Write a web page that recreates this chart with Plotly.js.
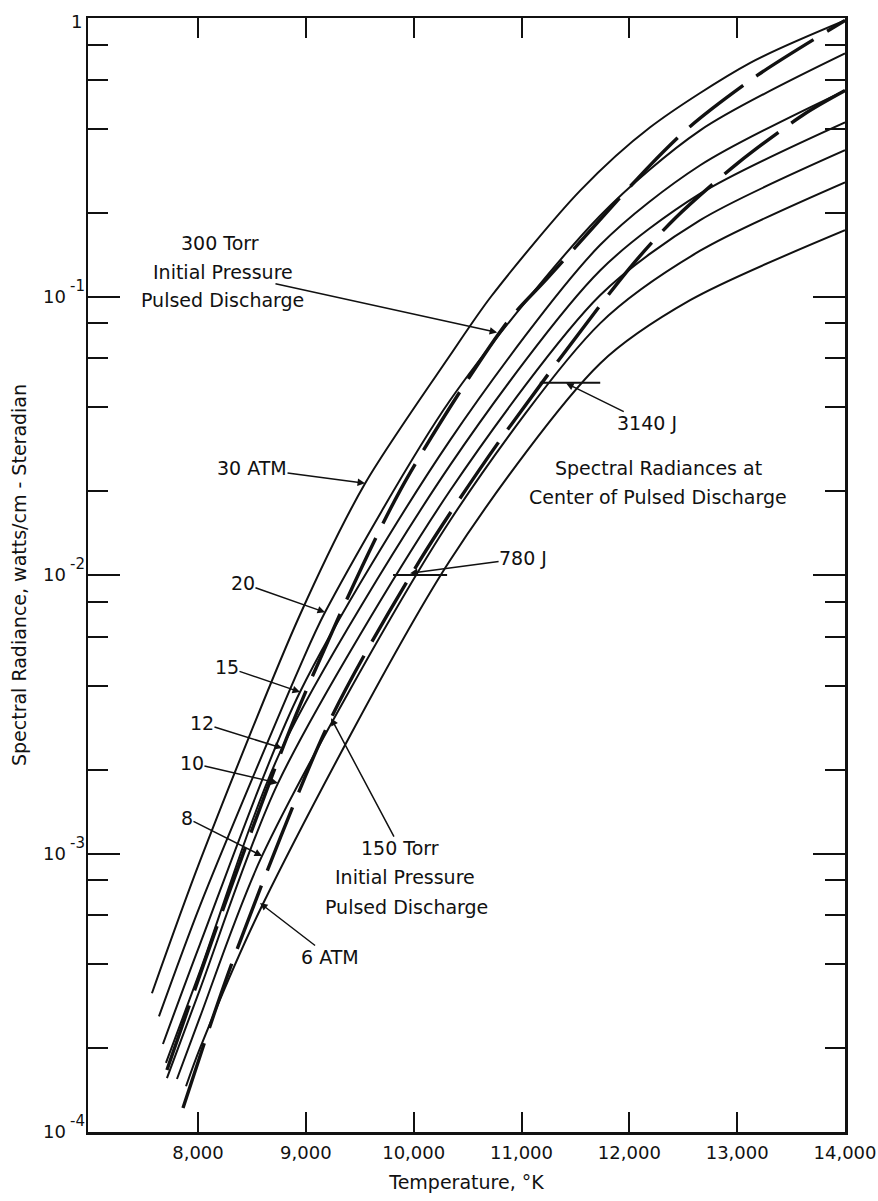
<!DOCTYPE html>
<html>
<head>
<meta charset="utf-8">
<script src="https://cdn.plot.ly/plotly-3.0.1.min.js"></script>
<style>
  html, body { margin: 0; padding: 0; background: #fff; }
  #chart { width: 878px; height: 1201px; }
</style>
</head>
<body>
<div id="chart"></div>
<script>
// Spectral radiance vs temperature, constant-pressure curves (ATM)
const T_30 = [7573, 8019, 8946, 9549, 10338, 10718, 11544, 12193, 13121, 14000];
const R_30 = [3.15e-4, 9.4e-4, 7.2e-3, 0.0213, 0.0615, 0.100, 0.240, 0.405, 0.69, 0.98];

const T_20 = [7638, 8019, 8946, 9178, 10338, 11729, 12657, 14000];
const R_20 = [2.6e-4, 6.5e-4, 4.7e-3, 7.35e-3, 0.0424, 0.195, 0.395, 0.746];

const T_15 = [7675, 8019, 8946, 10338, 11729, 12657, 14000];
const R_15 = [2.07e-4, 4.73e-4, 3.8e-3, 0.0305, 0.153, 0.296, 0.549];

const T_12 = [7703, 8019, 8779, 10338, 11729, 12657, 14000];
const R_12 = [1.77e-4, 3.78e-4, 2.39e-3, 0.0248, 0.124, 0.234, 0.422];

const T_10 = [7712, 8019, 8742, 10338, 11729, 12657, 14000];
const R_10 = [1.56e-4, 3.26e-4, 1.79e-3, 0.0201, 0.101, 0.188, 0.335];

const T_8 = [7805, 8019, 8594, 10338, 11729, 12657, 14000];
const R_8 = [1.55e-4, 2.59e-4, 9.8e-4, 0.0157, 0.0801, 0.146, 0.257];

const T_6 = [7889, 8019, 8603, 10338, 11729, 12564, 14000];
const R_6 = [1.46e-4, 2.0e-4, 6.6e-4, 0.0113, 0.0575, 0.097, 0.173];

// Pulsed discharge curves (dashed)
const T_300torr = [7712, 8297, 8946, 9874, 10866, 11237, 12174, 12564, 13186, 14000];
const R_300torr = [1.67e-4, 7.4e-4, 3.41e-3, 0.0201, 0.0807, 0.116, 0.291, 0.408, 0.622, 0.98];

const T_150torr = [7861, 8325, 9234, 10059, 10801, 12007, 12425, 13000, 13631, 14000];
const R_150torr = [1.22e-4, 4.14e-4, 3.06e-3, 0.0113, 0.0305, 0.127, 0.191, 0.300, 0.454, 0.549];

// Energy markers on the discharge curve (short horizontal bars)
const T_780J = [9809, 10310];
const R_780J = [0.01, 0.01];
const T_3140J = [11170, 11730];
const R_3140J = [0.049, 0.049];

// Axis ticks
const xTickVals = [8000, 9000, 10000, 11000, 12000, 13000, 14000];
const xTickText = ['8,000', '9,000', '10,000', '11,000', '12,000', '13,000', '14,000'];
const yTickVals = [1e-4, 1e-3, 1e-2, 1e-1, 1];
const yTickText = ['10', '10', '10', '10', ''];
const yExponents = ['-4', '-3', '-2', '-1', ''];
const yMinorVals = [];
[1e-4, 1e-3, 1e-2, 1e-1].forEach(d => [2, 4, 6, 8].forEach(m => yMinorVals.push(d * m)));

// Curve labels: text position [T, R] and arrow tip [T, R]
const curveLabels = [
  { text: '30 ATM', at: [8501, 0.02416], tip: [9549, 0.02134] },
  { text: '20', at: [8417, 0.00934], tip: [9178, 0.00735] },
  { text: '15', at: [8269, 0.00467], tip: [8946, 0.00380] },
  { text: '12', at: [8037, 0.00294], tip: [8779, 0.00239] },
  { text: '10', at: [7944, 0.00211], tip: [8742, 0.00179] },
  { text: '8', at: [7898, 0.00134], tip: [8594, 0.00098] },
  { text: '6 ATM', at: [9224, 0.000425], tip: [8575, 0.000664] },
  { text: 'Initial Pressure', at: [8232, 0.1221], tip: [10774, 0.0743] },
  { text: '150 Torr', at: [9874, 0.001045], tip: [9234, 0.00306] },
  { text: '3140 J', at: [12165, 0.0351], tip: [11414, 0.0488] },
  { text: '780 J', at: [11015, 0.01148], tip: [9967, 0.01015] }
];
// Plain text blocks: [text, T, R]
const plainTexts = [
  ['300 Torr', 8204, 0.1551],
  ['Pulsed Discharge', 8223, 0.0968],
  ['Initial Pressure', 9920, 0.000823],
  ['Pulsed Discharge', 9930, 0.000642],
  ['Spectral Radiances at', 12267, 0.02416],
  ['Center of Pulsed Discharge', 12267, 0.01901]
];

const FONT = 'DejaVu Sans, Verdana, sans-serif';
const INK = '#111';
const LABEL_SIZE = 19;

function solid(x, y) {
  return { x: x, y: y, type: 'scatter', mode: 'lines', hoverinfo: 'skip',
    line: { color: INK, width: 2, shape: 'spline', smoothing: 0.8 } };
}
function dashed(x, y) {
  return { x: x, y: y, type: 'scatter', mode: 'lines', hoverinfo: 'skip',
    line: { color: INK, width: 3.4, dash: '68px,16px', shape: 'spline', smoothing: 0.8 } };
}
function bar(x, y) {
  return { x: x, y: y, type: 'scatter', mode: 'lines', hoverinfo: 'skip',
    line: { color: INK, width: 2 } };
}

const traces = [
  solid(T_30, R_30), solid(T_20, R_20), solid(T_15, R_15), solid(T_12, R_12),
  solid(T_10, R_10), solid(T_8, R_8), solid(T_6, R_6),
  dashed(T_300torr, R_300torr), dashed(T_150torr, R_150torr),
  bar(T_780J, R_780J), bar(T_3140J, R_3140J)
];

const annotations = [];
curveLabels.forEach(l => {
  annotations.push({
    x: l.tip[0], y: Math.log10(l.tip[1]), xref: 'x', yref: 'y',
    ax: l.at[0], ay: Math.log10(l.at[1]), axref: 'x', ayref: 'y',
    text: l.text, showarrow: true, arrowhead: 2, arrowsize: 1, arrowwidth: 1.5,
    arrowcolor: INK, standoff: 0, startstandoff: 0, borderpad: 0,
    font: { family: FONT, size: LABEL_SIZE, color: INK }
  });
});
plainTexts.forEach(p => {
  annotations.push({
    x: p[1], y: Math.log10(p[2]), xref: 'x', yref: 'y', showarrow: false,
    text: p[0], xanchor: 'center', yanchor: 'middle',
    font: { family: FONT, size: LABEL_SIZE, color: INK }
  });
});
// Full-size exponents beside the "10" tick labels
yTickVals.forEach((v, i) => {
  if (!yExponents[i]) return;
  annotations.push({
    x: 0, xref: 'paper', xshift: -20, xanchor: 'left',
    y: Math.log10(v), yref: 'y', yshift: 11, yanchor: 'middle',
    text: yExponents[i], showarrow: false,
    font: { family: FONT, size: 15, color: INK }
  });
});
// Top label "1", tucked against the axis
annotations.push({
  x: 0, xref: 'paper', xshift: -4, xanchor: 'right',
  y: Math.log10(yTickVals[4]), yref: 'y', yshift: -3, yanchor: 'middle',
  text: '1', showarrow: false, font: { family: FONT, size: 18, color: INK }
});

const axisCommon = {
  showline: true, linecolor: INK, linewidth: 2.5, mirror: 'allticks',
  ticks: 'inside', tickcolor: INK, tickwidth: 2, showgrid: false, zeroline: false,
  tickfont: { family: FONT, size: 18, color: INK }
};

const layout = {
  width: 878, height: 1201,
  margin: { l: 88, r: 33, t: 18, b: 69 },
  paper_bgcolor: '#fff', plot_bgcolor: '#fff',
  showlegend: false,
  xaxis: Object.assign({}, axisCommon, {
    range: [6980, 14000], tickmode: 'array', tickvals: xTickVals, ticktext: xTickText,
    ticklen: 20, ticklabelstandoff: 3,
    title: { text: 'Temperature, °K', font: { family: FONT, size: 19, color: INK }, standoff: 14 }
  }),
  yaxis: Object.assign({}, axisCommon, {
    type: 'log', range: [-4, 0], tickmode: 'array', tickvals: yTickVals, ticktext: yTickText,
    ticklen: 32, ticklabelstandoff: 16,
    minor: { tickvals: yMinorVals, ticks: 'inside', ticklen: 20, tickwidth: 2, tickcolor: INK, showgrid: false },
    title: { text: 'Spectral Radiance, watts/cm - Steradian', font: { family: FONT, size: 19, color: INK }, standoff: 12 }
  }),
  annotations: annotations
};

Plotly.newPlot('chart', traces, layout, { staticPlot: true, displayModeBar: false });
</script>
</body>
</html>
